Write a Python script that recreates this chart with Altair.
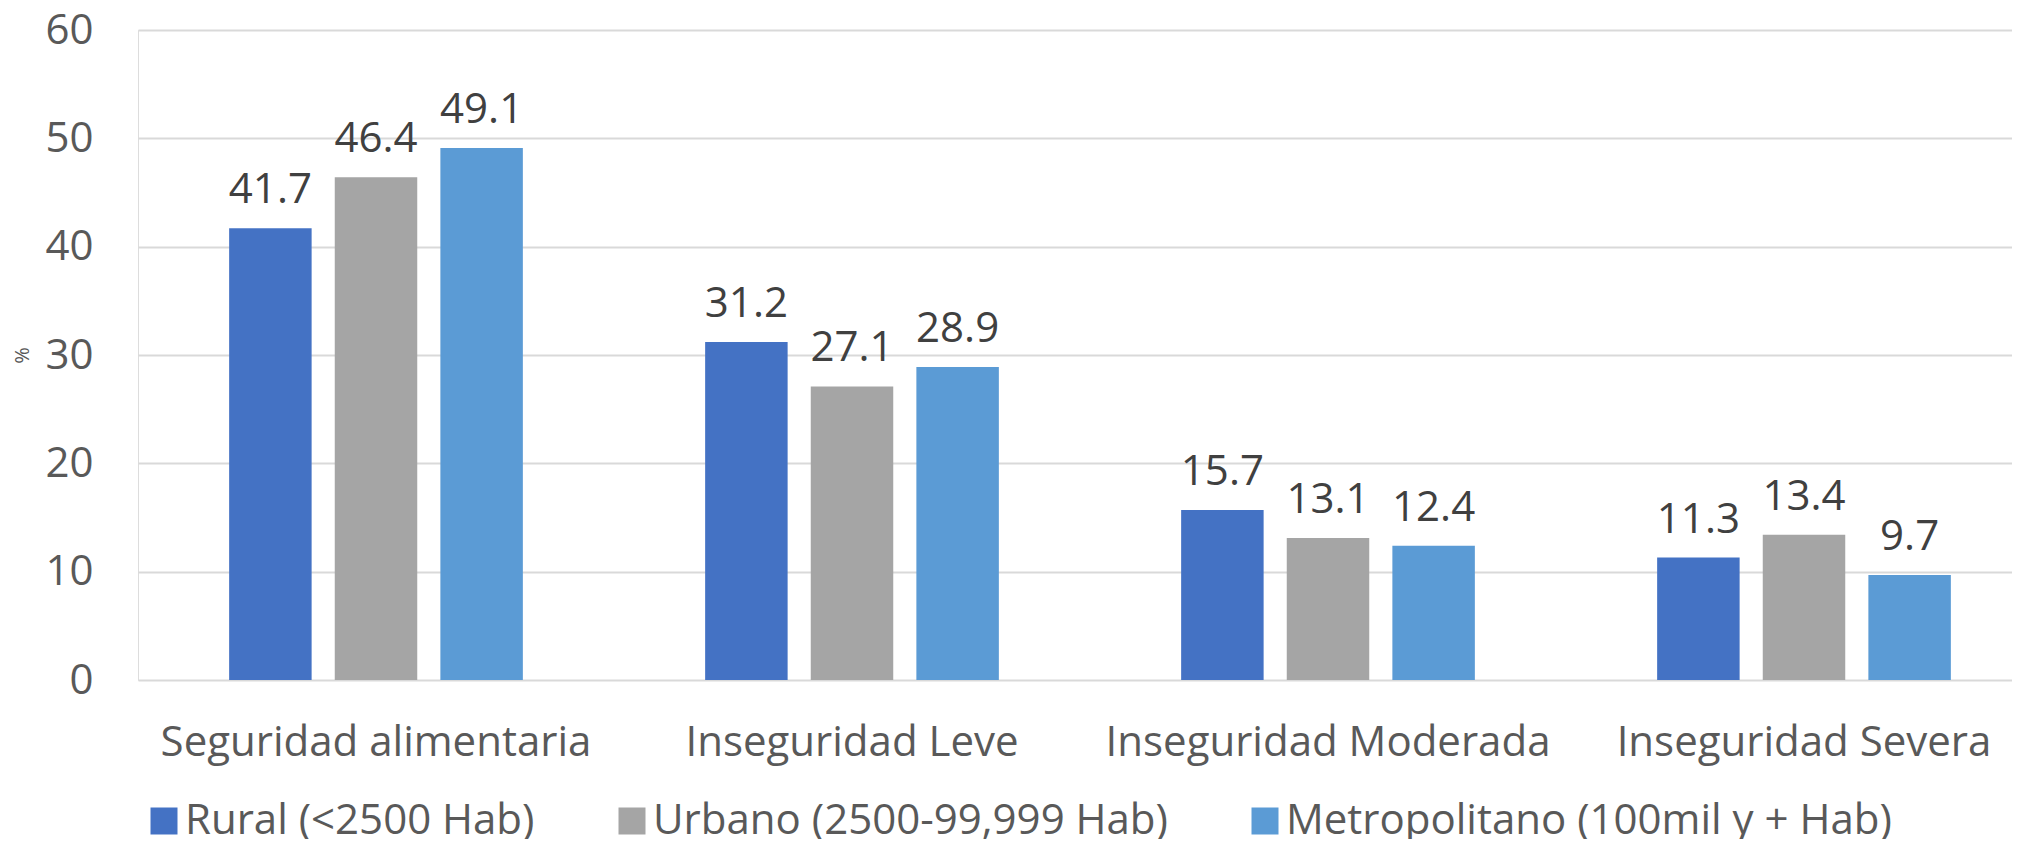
import altair as alt
import pandas as pd

categories = ["Seguridad alimentaria", "Inseguridad Leve", "Inseguridad Moderada", "Inseguridad Severa"]
series = ["Rural (<2500 Hab)", "Urbano (2500-99,999 Hab)", "Metropolitano (100mil y + Hab)"]
rural = [41.7, 31.2, 15.7, 11.3]
urbano = [46.4, 27.1, 13.1, 13.4]
metro = [49.1, 28.9, 12.4, 9.7]
colors = ["#4472C4", "#A5A5A5", "#5B9BD5"]
y_ticks = [0, 10, 20, 30, 40, 50, 60]

rows = []
for s, vals in zip(series, [rural, urbano, metro]):
    for c, v in zip(categories, vals):
        rows.append({"categoria": c, "zona": s, "valor": v})
df = pd.DataFrame(rows)

FONT = "Open Sans"
FS = 42

x_enc = alt.X(
    "categoria:N",
    sort=categories,
    scale=alt.Scale(range=[0, 1904], paddingInner=0, paddingOuter=0),
    axis=alt.Axis(
        title=None, labelAngle=0, ticks=False, domain=False,
        labelFontSize=FS, labelColor="#595959", labelFont=FONT,
        labelPadding=42, labelLimit=0,
    ),
)
xoff_enc = alt.XOffset(
    "zona:N", sort=series,
    scale=alt.Scale(paddingInner=0.219, paddingOuter=0.863),
)
y_enc = alt.Y(
    "valor:Q",
    scale=alt.Scale(domain=[0, 60], nice=False),
    axis=alt.Axis(
        values=y_ticks, title="%", ticks=False, domain=False,
        grid=True, gridColor="#D9D9D9", gridWidth=2,
        labelFontSize=FS, labelColor="#595959", labelFont=FONT, labelPadding=45,
        titleFontSize=20, titleColor="#595959", titleFont=FONT, titleFontWeight="normal",
        titleAngle=270, titleX=-116, titleY=325, titleAlign="center", titleBaseline="middle",
    ),
)
color_enc = alt.Color(
    "zona:N", sort=series,
    scale=alt.Scale(domain=series, range=colors),
    legend=alt.Legend(
        title=None, orient="none", direction="horizontal",
        legendX=5, legendY=770,
        symbolType="square", symbolSize=729, symbolStrokeWidth=0,
        labelFontSize=FS, labelColor="#595959", labelFont=FONT,
        labelOffset=0, columnPadding=76, labelLimit=0,
    ),
)

bars = alt.Chart(df).mark_bar().encode(x=x_enc, xOffset=xoff_enc, y=y_enc, color=color_enc)
labels = alt.Chart(df).mark_text(
    baseline="alphabetic", dy=-25, fontSize=FS, font=FONT, color="#404040"
).encode(x=x_enc, xOffset=xoff_enc, y=y_enc, text=alt.Text("valor:Q", format=".1f"))

chart = alt.layer(bars, labels).properties(
    width=1874, height=650,
    padding={"left": 130, "top": 22, "right": 0, "bottom": 159},
    autosize="none",
).configure_view(stroke=None).configure(background="white")

chart.save("out.html", embed_options={"renderer": "svg", "actions": False})
